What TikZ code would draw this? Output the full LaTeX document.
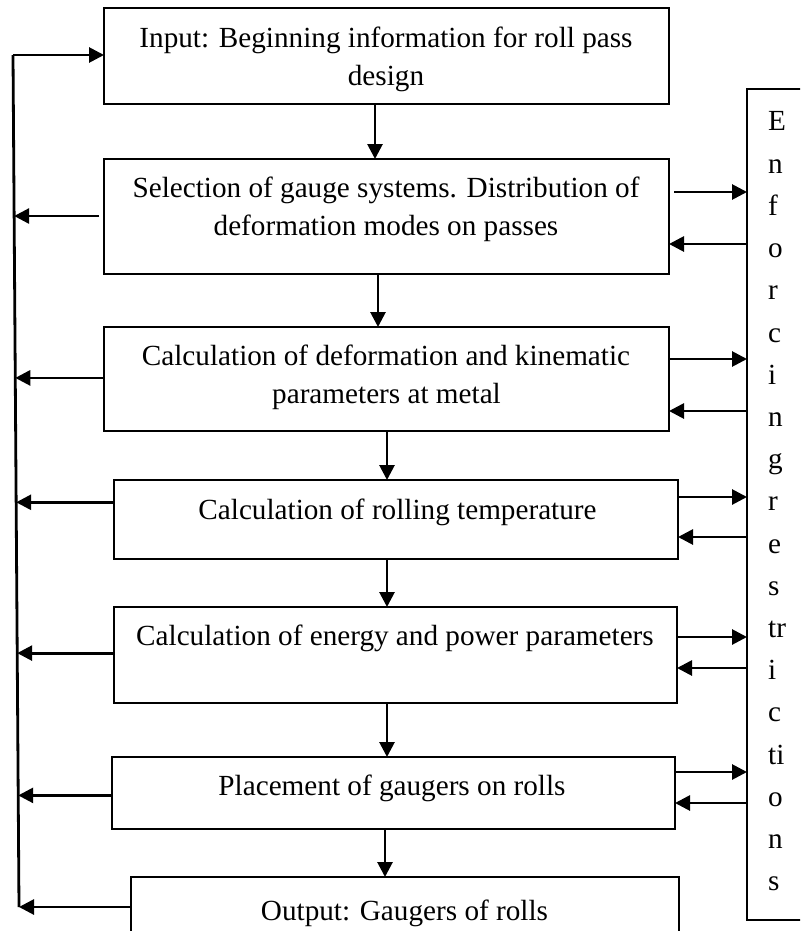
\documentclass[tikz,border=0pt]{standalone}
\usepackage{fontspec}
\setmainfont{Liberation Serif}
\usetikzlibrary{arrows.meta,calc}
\begin{document}
\begin{tikzpicture}[x=1pt,y=-1pt,
  box/.style={draw,line width=2.2pt,inner sep=0pt,outer sep=0pt},
  txt/.style={anchor=base,inner sep=0pt,font=\fontsize{29.2}{38}\selectfont},
  ltr/.style={anchor=base west,inner sep=0pt,font=\fontsize{29.2}{38}\selectfont},
  arr/.style={line width=2.8pt,-{Triangle[length=15pt,width=15pt]}},
  ln/.style={line width=2.8pt}]
\useasboundingbox (0,0) rectangle (800,931);
\clip (0,0) rectangle (800,931);
\fill[white] (0,0) rectangle (800,931);
% boxes
\node[box,minimum width=565pt,minimum height=96pt] (b1) at (386.5,56) {};
\node[box,minimum width=565pt,minimum height=115pt] (b2) at (386.5,216.5) {};
\node[box,minimum width=565pt,minimum height=104pt] (b3) at (386.5,379) {};
\node[box,minimum width=564pt,minimum height=79pt] (b4) at (396,519.5) {};
\node[box,minimum width=563pt,minimum height=96pt] (b5) at (395.5,655) {};
\node[box,minimum width=563pt,minimum height=72pt] (b6) at (393.5,793) {};
\node[box,minimum width=548pt,minimum height=83pt] (b7) at (405,918.5) {};
\node[box,minimum width=83pt,minimum height=831pt] (E) at (788.5,504.5) {};
% texts
\node[txt] (t1a) at (386,48) {Input: Beginning information for roll pass};
\node[txt] (t1b) at (386,86) {design};
\node[txt] (t2a) at (386,197) {Selection of gauge systems. Distribution of};
\node[txt] (t2b) at (386,235) {deformation modes on passes};
\node[txt] (t3a) at (386,365) {Calculation of deformation and kinematic};
\node[txt] (t3b) at (386.5,403) {parameters at metal};
\node[txt] (t4) at (397.5,519) {Calculation of rolling temperature};
\node[txt] (t5) at (395,645) {Calculation of energy and power parameters};
\node[txt] (t6) at (392,795) {Placement of gaugers on rolls};
\node[txt] (t7) at (404.5,920) {Output: Gaugers of rolls};
% vertical letters
\foreach \s [count=\k from 0] in {E,n,f,o,r,c,i,n,g,r,e,s,tr,i,c,ti,o,n,s}
  \node[ltr] (e\k) at (768,131+42.2*\k) {\s};
% down arrows
\coordinate (d1) at (375,0);
\coordinate (d2) at (378,0);
\coordinate (d3) at (387,0);
\coordinate (d4) at (387,0);
\coordinate (d5) at (387,0);
\coordinate (d6) at (385,0);
\draw[arr] (b1.south -| d1) -- (b2.north -| d1);
\draw[arr] (b2.south -| d2) -- (b3.north -| d2);
\draw[arr] (b3.south -| d3) -- (b4.north -| d3);
\draw[arr] (b4.south -| d4) -- (b5.north -| d4);
\draw[arr] (b5.south -| d5) -- (b6.north -| d5);
\draw[arr] (b6.south -| d6) -- (b7.north -| d6);
% left feedback line
\coordinate (Ltop) at (13,55);
\coordinate (Lbot) at (19,907);
\draw[ln] (Ltop) -- (Lbot);
\draw[arr] (Ltop) -- (b1.west |- Ltop);
\coordinate (L2) at ($(Ltop)!0.189!(Lbot)$);
\coordinate (L3) at ($(Ltop)!0.379!(Lbot)$);
\coordinate (L4) at ($(Ltop)!0.525!(Lbot)$);
\coordinate (L5) at ($(Ltop)!0.702!(Lbot)$);
\coordinate (L6) at ($(Ltop)!0.869!(Lbot)$);
\draw[arr] ($(b2.west |- L2)+(-5,0)$) -- (L2);
\draw[arr] (b3.west |- L3) -- (L3);
\draw[arr] (b4.west |- L4) -- (L4);
\draw[arr] (b5.west |- L5) -- (L5);
\draw[arr] (b6.west |- L6) -- (L6);
\draw[arr] (b7.west |- Lbot) -- (Lbot);
% right arrows
\coordinate (o2) at (0,192);  \coordinate (i2) at (0,244);
\coordinate (o3) at (0,359);  \coordinate (i3) at (0,411);
\coordinate (o4) at (0,497);  \coordinate (i4) at (0,537);
\coordinate (o5) at (0,637);  \coordinate (i5) at (0,668);
\coordinate (o6) at (0,772);  \coordinate (i6) at (0,803);
\draw[arr] ($(b2.east |- o2)+(5,0)$) -- (E.west |- o2);
\draw[arr] (E.west |- i2) -- (b2.east |- i2);
\draw[arr] (b3.east |- o3) -- (E.west |- o3);
\draw[arr] (E.west |- i3) -- (b3.east |- i3);
\draw[arr] (b4.east |- o4) -- (E.west |- o4);
\draw[arr] (E.west |- i4) -- (b4.east |- i4);
\draw[arr] (b5.east |- o5) -- (E.west |- o5);
\draw[arr] (E.west |- i5) -- (b5.east |- i5);
\draw[arr] (b6.east |- o6) -- (E.west |- o6);
\draw[arr] (E.west |- i6) -- (b6.east |- i6);
\end{tikzpicture}
\end{document}
